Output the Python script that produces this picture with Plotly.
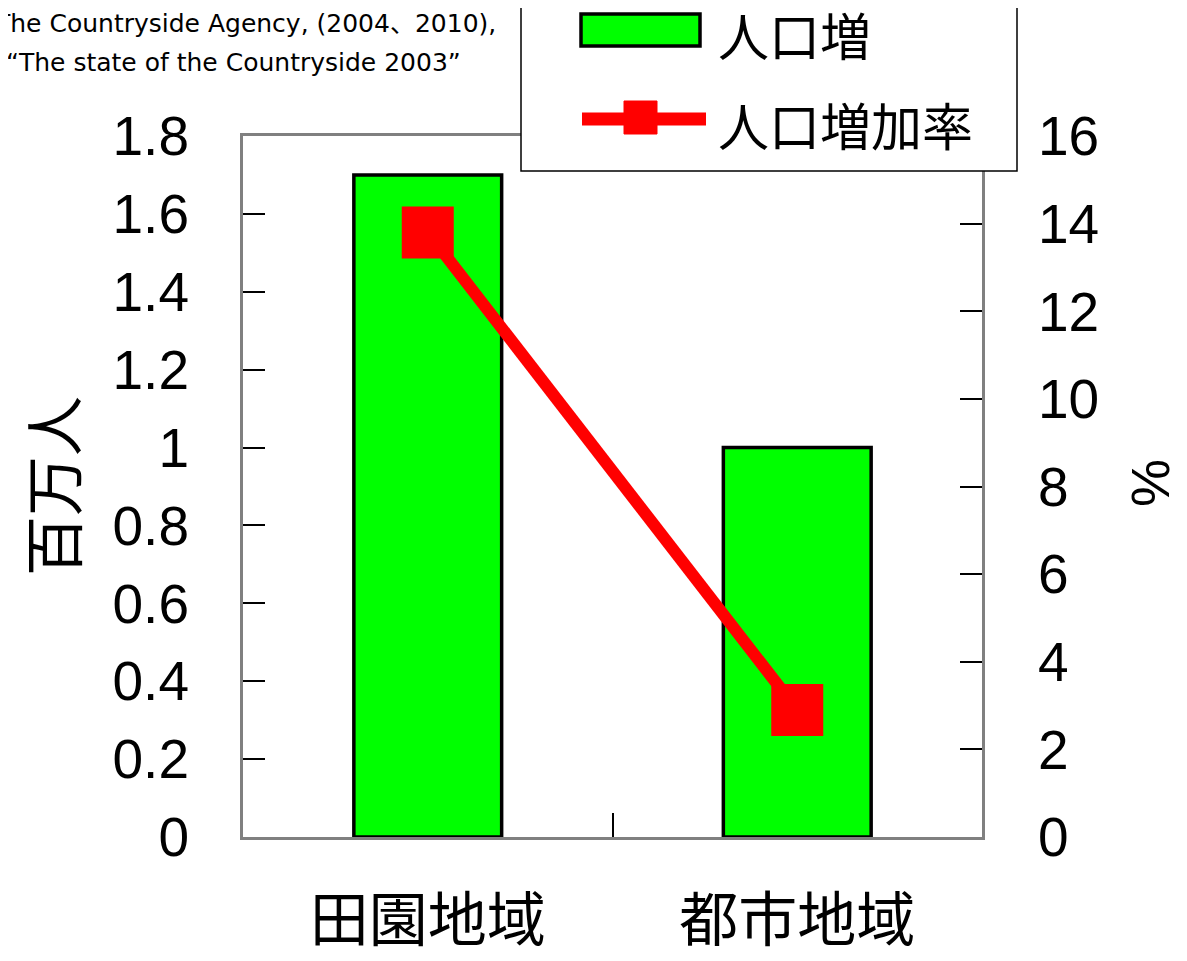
import plotly.graph_objects as go

categories = ["田園地域", "都市地域"]
pop_increase = [1.7, 1.0]          # 百万人
pop_rate = [13.8, 2.9]             # %
left_ticks = [0, 0.2, 0.4, 0.6, 0.8, 1.0, 1.2, 1.4, 1.6, 1.8]
left_tick_text = ["0", "0.2", "0.4", "0.6", "0.8", "1", "1.2", "1.4", "1.6", "1.8"]
right_ticks = [0, 2, 4, 6, 8, 10, 12, 14, 16]
series_names = ["人口増", "人口増加率"]
source_lines = ["The Countryside Agency, (2004、2010),", "“The state of the Countryside 2003”"]

OFF = 8  # page body margin
W, H = 1187 - 2 * OFF, 961 - 2 * OFF
L, R, T, B = 243 - OFF, 982 - OFF, 136 - OFF, 837 - OFF
PW, PH = R - L, B - T

def px(x):
    return (x - OFF - L) / PW

def py(y):
    return (B - (y - OFF)) / PH

GREEN = "#00FF00"
RED = "#FF0000"
AXIS = "#808080"
NUMFONT = "Liberation Sans, Arial, sans-serif"
JPFONT = "Noto Sans CJK JP, sans-serif"
NOTEFONT = "DejaVu Sans, Noto Sans CJK JP, sans-serif"

fig = go.Figure()
fig.add_trace(go.Bar(
    x=categories, y=pop_increase, name=series_names[0],
    marker=dict(color=GREEN, line=dict(color="black", width=3.5)),
    width=0.4, yaxis="y", showlegend=False,
))
fig.add_trace(go.Scatter(
    x=categories, y=pop_rate, name=series_names[1], yaxis="y2",
    mode="lines+markers",
    line=dict(color=RED, width=12),
    marker=dict(symbol="square", size=52, color=RED, line=dict(width=0)),
    showlegend=False,
))

fig.update_layout(
    width=W, height=H,
    margin=dict(l=L, r=W - R, t=T, b=H - B, pad=0, autoexpand=False),
    paper_bgcolor="white", plot_bgcolor="white",
    showlegend=False,
    xaxis=dict(
        type="category", tickson="boundaries", ticks="inside", ticklen=24,
        tickcolor="black", tickwidth=1.5,
        showline=True, mirror=True, linecolor=AXIS, linewidth=3,
        showgrid=False, zeroline=False, automargin=False,
        tickfont=dict(family=JPFONT, size=59, color="black"),
        ticklabelstandoff=30,
        range=[-0.5, 1.5],
    ),
    yaxis=dict(
        range=[0, 1.8], tickvals=left_ticks, ticktext=left_tick_text,
        ticks="inside", ticklen=22, tickcolor="black", tickwidth=1.5,
        showline=True, mirror=True, linecolor=AXIS, linewidth=3,
        showgrid=False, zeroline=False, automargin=False,
        tickfont=dict(family=NUMFONT, size=55, color="black"),
        ticklabelstandoff=40,
    ),
    yaxis2=dict(
        range=[0, 16], tickvals=right_ticks, overlaying="y", side="right",
        ticks="inside", ticklen=22, tickcolor="black", tickwidth=1.5,
        showline=True, linecolor=AXIS, linewidth=3,
        showgrid=False, zeroline=False, automargin=False,
        tickfont=dict(family=NUMFONT, size=55, color="black"),
        ticklabelstandoff=42,
    ),
)

annotations = [
    dict(text="百万人", x=px(50), y=py(486), xref="paper", yref="paper",
         textangle=-90, showarrow=False, xanchor="center", yanchor="middle",
         font=dict(family=JPFONT, size=60, color="black")),
    dict(text="%", x=px(1150), y=py(483), xref="paper", yref="paper",
         textangle=-90, showarrow=False, xanchor="center", yanchor="middle",
         font=dict(family=NUMFONT, size=54, color="black")),
    dict(text=source_lines[0], x=px(498), y=py(24), xref="paper", yref="paper",
         showarrow=False, xanchor="right", yanchor="middle",
         font=dict(family=NOTEFONT, size=25, color="black")),
    dict(text=source_lines[1], x=px(463), y=py(62), xref="paper", yref="paper",
         showarrow=False, xanchor="right", yanchor="middle",
         font=dict(family=NOTEFONT, size=25, color="black")),
    # legend texts
    dict(text=series_names[0], x=px(716), y=py(34), xref="paper", yref="paper",
         showarrow=False, xanchor="left", yanchor="middle",
         font=dict(family=JPFONT, size=51, color="black")),
    dict(text=series_names[1], x=px(716), y=py(124), xref="paper", yref="paper",
         showarrow=False, xanchor="left", yanchor="middle",
         font=dict(family=JPFONT, size=51, color="black")),
]

shapes = [
    # legend box
    dict(type="rect", xref="paper", yref="paper", x0=px(521), x1=px(1017),
         y0=py(171), y1=py(-10), fillcolor="white",
         line=dict(color="black", width=1.5), layer="above"),
    # bar swatch
    dict(type="rect", xref="paper", yref="paper", x0=px(581), x1=px(700),
         y0=py(46), y1=py(14), fillcolor=GREEN,
         line=dict(color="black", width=3.5), layer="above"),
    # line swatch
    dict(type="line", xref="paper", yref="paper", x0=px(582), x1=px(706),
         y0=py(119), y1=py(119), line=dict(color=RED, width=13), layer="above"),
    dict(type="rect", xref="paper", yref="paper", x0=px(624), x1=px(657),
         y0=py(134), y1=py(101), fillcolor=RED,
         line=dict(color=RED, width=1), layer="above"),
]

fig.update_layout(annotations=annotations, shapes=shapes)
fig.write_html("out.html")
